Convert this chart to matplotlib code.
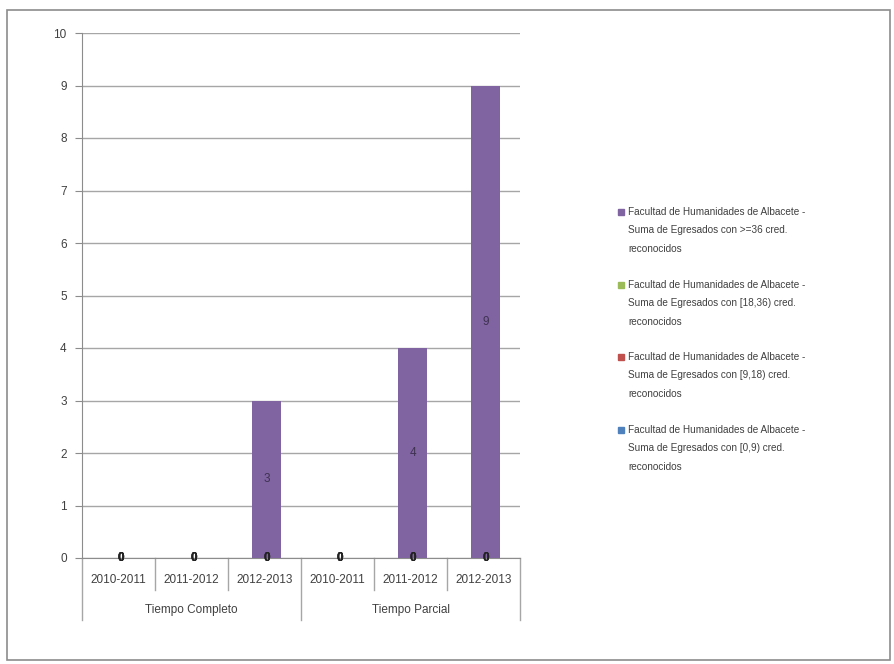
import numpy as np
import matplotlib
matplotlib.use('Agg')
from matplotlib import pyplot as plt
from matplotlib.patches import Rectangle
from matplotlib.lines import Line2D

plt.rcParams['font.family'] = ['Liberation Sans', 'DejaVu Sans']

years = ['2010-2011', '2011-2012', '2012-2013', '2010-2011', '2011-2012', '2012-2013']
groups = ['Tiempo Completo', 'Tiempo Parcial']
# series in stacking order (bottom -> top)
s_0_9 = [0, 0, 0, 0, 0, 0]
s_9_18 = [0, 0, 0, 0, 0, 0]
s_18_36 = [0, 0, 0, 0, 0, 0]
s_36 = [0, 0, 3, 0, 4, 9]

series = [s_0_9, s_9_18, s_18_36, s_36]
colors = ['#4F81BD', '#C0504D', '#9BBB59', '#8064A2']
labels = ['Facultad de Humanidades de Albacete -\nSuma de Egresados con [0,9) cred.\nreconocidos',
          'Facultad de Humanidades de Albacete -\nSuma de Egresados con [9,18) cred.\nreconocidos',
          'Facultad de Humanidades de Albacete -\nSuma de Egresados con [18,36) cred.\nreconocidos',
          'Facultad de Humanidades de Albacete -\nSuma de Egresados con >=36 cred.\nreconocidos']

W, H = 894, 664
fig = plt.figure(figsize=(W / 100, H / 100), dpi=100)
fig.patches.append(Rectangle((7 / W, 1 - 660 / H), 883 / W, 650 / H, transform=fig.transFigure,
                             fill=False, edgecolor='#8c8c8c', linewidth=1.2))

ax = fig.add_axes([82 / W, 1 - 558 / H, 438 / W, 525 / H])
x = np.arange(len(years)) + 0.03
bottom = np.zeros(len(years))
for vals, c in zip(series, colors):
    vals = np.array(vals, dtype=float)
    ax.bar(x, vals, 0.4, bottom=bottom, color=c, zorder=3)
    for xi, v, b in zip(x, vals, bottom):
        if v == 0:
            ax.text(xi, b, '0', ha='center', va='center', fontsize=8.5, color='#222222',
                    fontweight='bold', zorder=4)
        else:
            ax.text(xi, b + v / 2, '%d' % v, ha='center', va='center', fontsize=8.5,
                    color='#3f3151', zorder=4)
    bottom += vals

ax.set_xlim(-0.5, 5.5)
ax.set_ylim(0, 10)
ax.set_yticks(range(11))
ax.yaxis.grid(True, color='#a6a6a6', linewidth=1, zorder=0)
ax.tick_params(axis='y', length=5, color='#8c8c8c', labelsize=8.5, labelcolor='#404040', pad=6)
ax.set_xticks([])
for sp in ['top', 'right']:
    ax.spines[sp].set_visible(False)
ax.spines['left'].set_color('#8c8c8c')
ax.spines['bottom'].set_color('#8c8c8c')

# two-level category axis
for i, lab in enumerate(years):
    ax.text(i, -0.42, lab, ha='center', va='center', fontsize=8.5, color='#404040', clip_on=False)
for b in np.arange(-0.5, 6, 1):
    depth = -1.18 if b in (-0.5, 2.5, 5.5) else -0.61
    ax.add_line(Line2D([b, b], [0, depth], color='#a6a6a6', linewidth=1, clip_on=False))
for g, lab in enumerate(groups):
    ax.text(1 + 3 * g, -0.99, lab, ha='center', va='center', fontsize=8.5, color='#404040', clip_on=False)

# legend, top entry first
ys = [212, 285, 357, 430]
for yy, lab, c in zip(ys, labels[::-1], colors[::-1]):
    fig.patches.append(Rectangle((618 / W, 1 - (yy + 3) / H), 6 / W, 6 / H,
                                 transform=fig.transFigure, color=c))
    fig.text(628 / W, 1 - (yy - 5) / H, lab, ha='left', va='top', fontsize=7.2,
             color='#404040', linespacing=2.05)

fig.savefig('out.png', dpi=100)
